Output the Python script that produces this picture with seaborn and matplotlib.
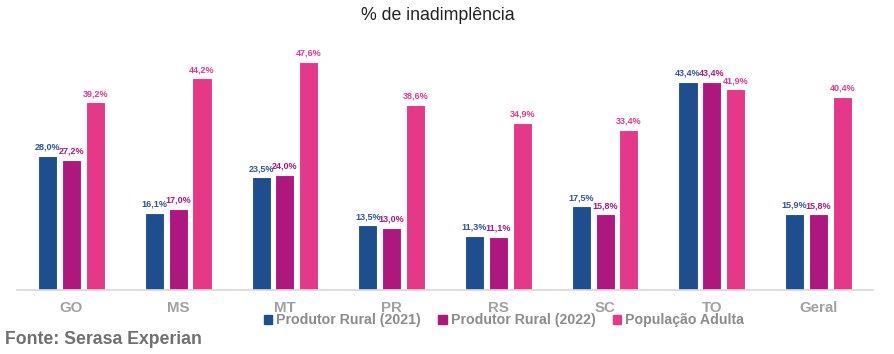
import pandas as pd
import seaborn as sns
from matplotlib import pyplot as plt

# dados (% de inadimplência)
estados = ['GO', 'MS', 'MT', 'PR', 'RS', 'SC', 'TO', 'Geral']
rural_2021 = [28.0, 16.1, 23.5, 13.5, 11.3, 17.5, 43.4, 15.9]
rural_2022 = [27.2, 17.0, 24.0, 13.0, 11.1, 15.8, 43.4, 15.8]
pop_adulta = [39.2, 44.2, 47.6, 38.6, 34.9, 33.4, 41.9, 40.4]
series = ['Produtor Rural (2021)', 'Produtor Rural (2022)', 'População Adulta']
cores = ['#1f4e8f', '#ae1780', '#e63888']
cores_rotulo = ['#2f5597', '#ae1780', '#e63888']

df = pd.DataFrame({'estado': estados * 3,
                   'valor': rural_2021 + rural_2022 + pop_adulta,
                   'serie': [s for s in series for _ in estados]})

sns.set_theme(style='white')
plt.rcParams['font.family'] = ['Liberation Sans', 'DejaVu Sans']

fig = plt.figure(figsize=(8.95, 3.54), dpi=100)
ax = fig.add_axes([17 / 895, 64 / 354, (873 - 17) / 895, 250 / 354])

sns.barplot(data=df, x='estado', y='valor', hue='serie', palette=cores,
            saturation=1, width=0.67, gap=0.2, edgecolor='white',
            linewidth=0.8, legend=False, ax=ax)

# rótulos de valor
for cont, cor in zip(ax.containers, cores_rotulo):
    rot = [f'{v:.1f}%'.replace('.', ',') for v in cont.datavalues]
    ax.bar_label(cont, labels=rot, padding=3, fontsize=6.5,
                 fontweight='bold', color=cor)

ax.set_xlim(-0.51, 7.51)
ax.set_ylim(0, 52.2)
ax.set_xlabel('')
ax.set_ylabel('')
ax.set_yticks([])
for s in ['top', 'left', 'right']:
    ax.spines[s].set_visible(False)
ax.spines['bottom'].set_color('#d9d9d9')
ax.tick_params(axis='x', length=0, pad=8, labelsize=10.8, labelcolor='#a0a0a0')
for t in ax.get_xticklabels():
    t.set_fontweight('bold')

fig.text(0.489, 0.955, '% de inadimplência', ha='center', va='center',
         fontsize=12.8, color='#222222')

# legenda manual
handles = [plt.Rectangle((0, 0), 1, 1, color=c) for c in cores]
leg = fig.legend(handles, series, loc='center', bbox_to_anchor=(0.563, 0.095),
                 ncol=3, frameon=False, fontsize=10.2, handlelength=0.6,
                 handleheight=0.6, handletextpad=0.3, columnspacing=1.2)
for t in leg.get_texts():
    t.set_color('#8c8c8c')
    t.set_fontweight('bold')

fig.text(0.006, 0.04, 'Fonte: Serasa Experian', ha='left', va='center',
         fontsize=12.7, fontweight='bold', color='#707070')

fig.savefig('out.png', dpi=100)
